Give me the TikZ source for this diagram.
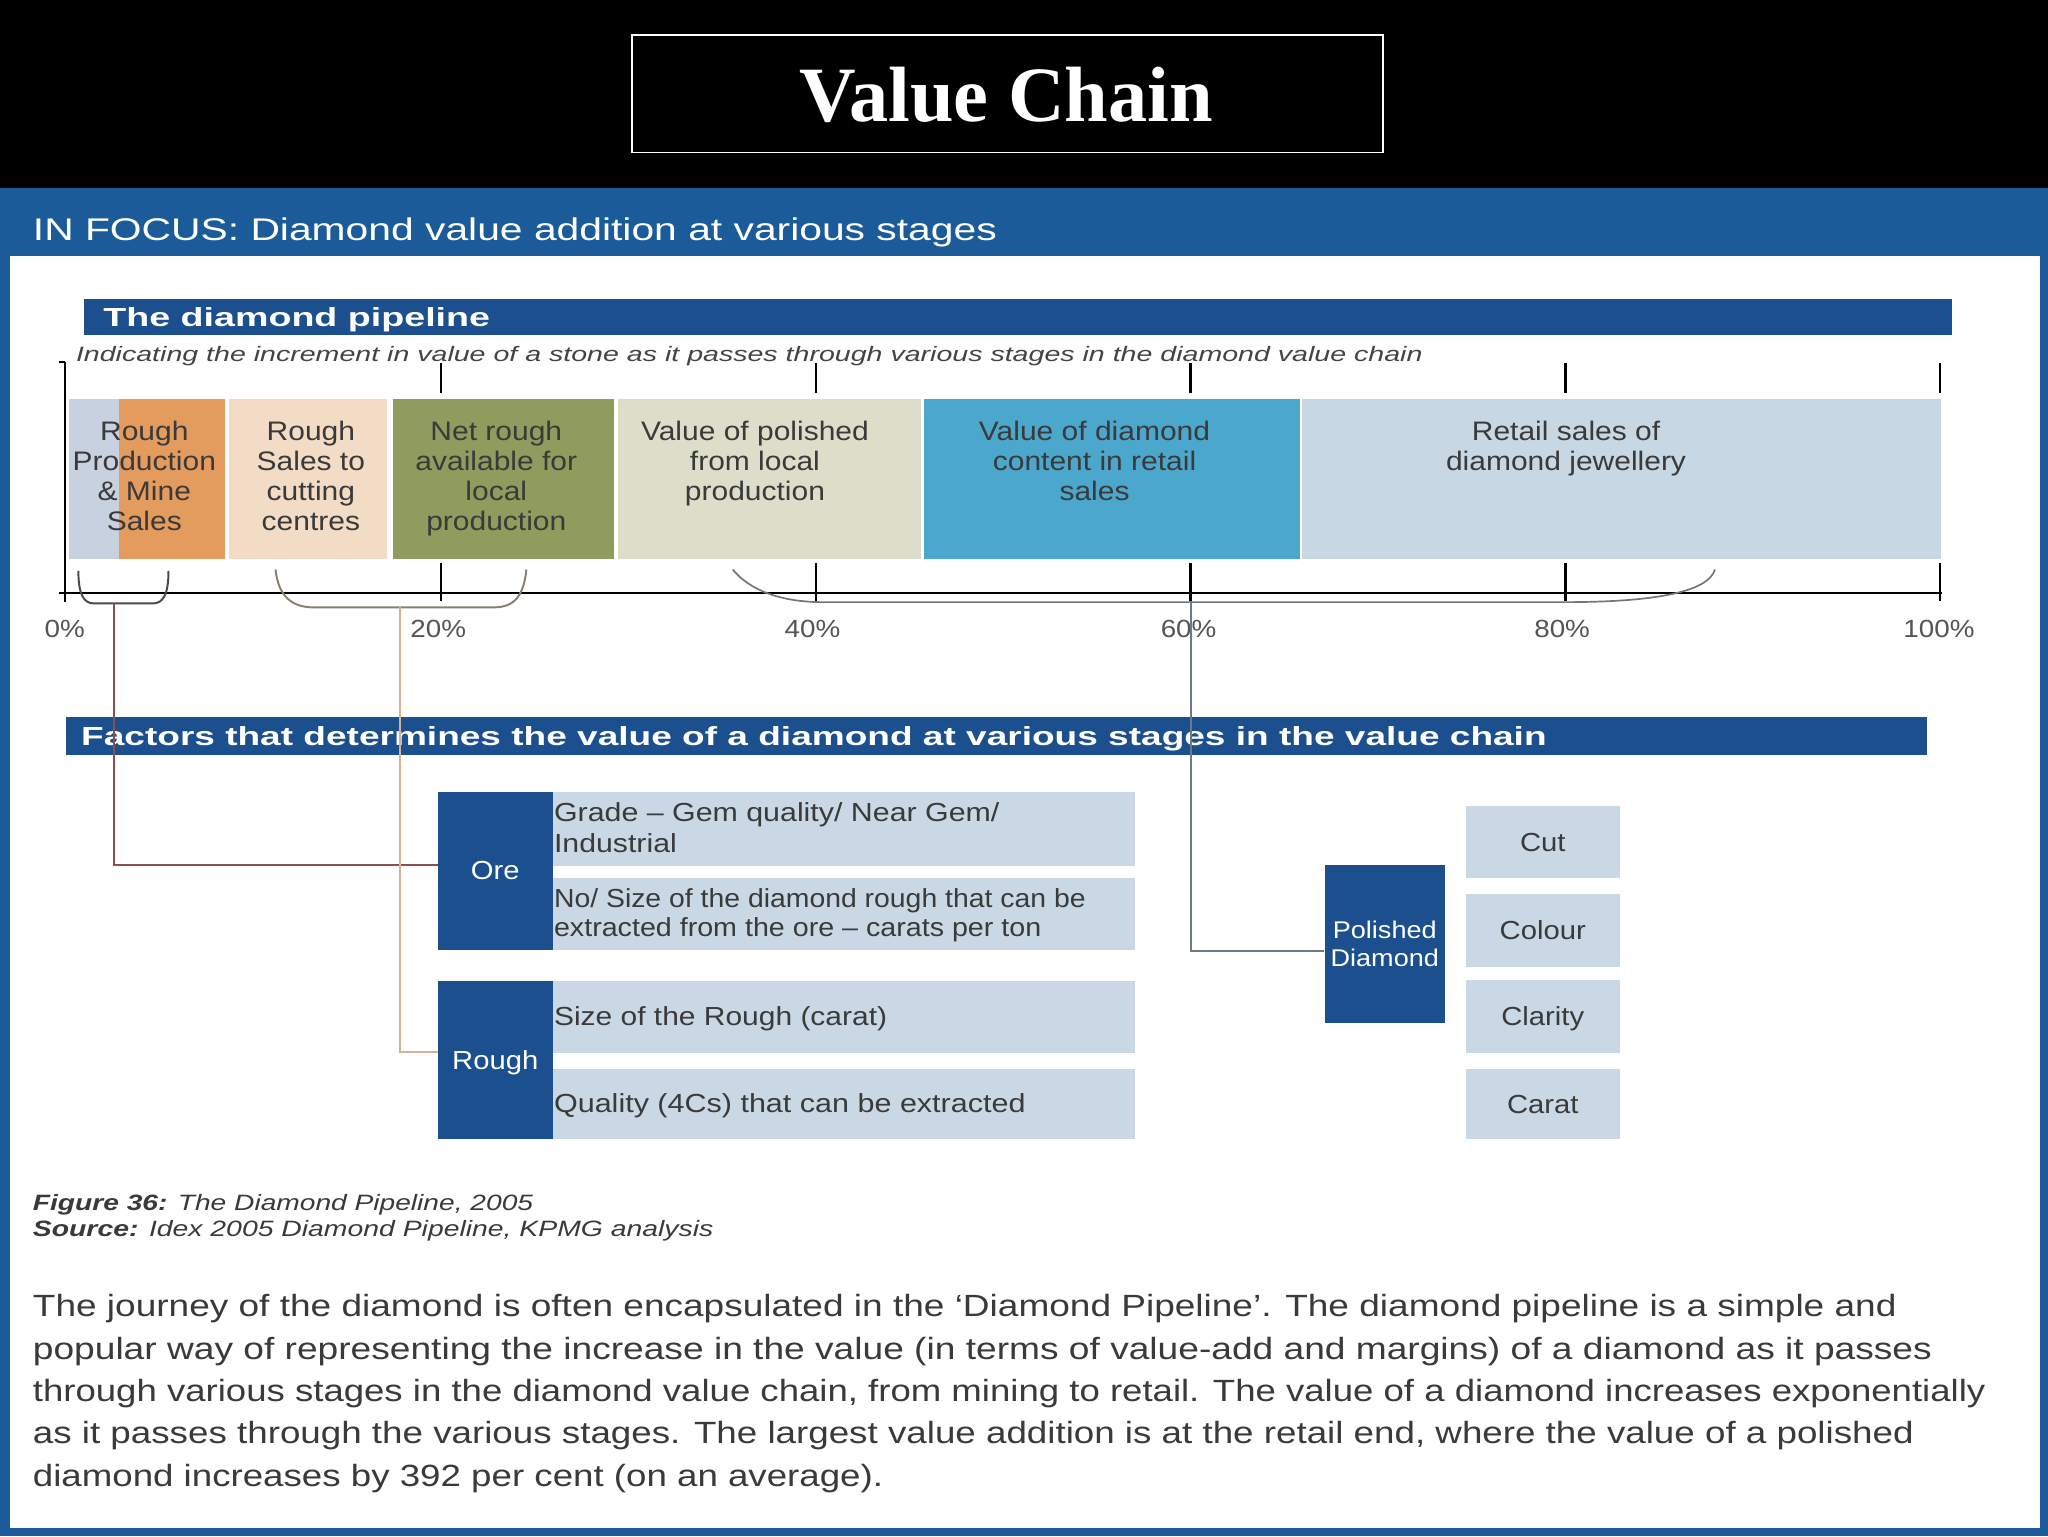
\documentclass[tikz,border=0pt]{standalone}
\usepackage{fontspec}
\usepackage{graphicx}
\setmainfont{Liberation Sans}[FakeStretch=1.12]
\newfontfamily\titlefont{Liberation Serif}
\definecolor{bandblue}{HTML}{1B5B99}
\definecolor{barblue}{HTML}{1B4F8E}
\definecolor{lightbox}{HTML}{C9D8E4}
\definecolor{segA}{HTML}{C7D1DF}
\definecolor{segB}{HTML}{E49B5E}
\definecolor{segC}{HTML}{F3DCC6}
\definecolor{segD}{HTML}{8E9C5E}
\definecolor{segE}{HTML}{DDDECA}
\definecolor{segF}{HTML}{4CA7CC}
\definecolor{segG}{HTML}{C7D8E4}
\definecolor{segtext}{HTML}{3A3A3A}
\definecolor{pcttext}{HTML}{555555}
\definecolor{subtext}{HTML}{444444}
\definecolor{oreline}{HTML}{8C4F4F}
\definecolor{roughline}{HTML}{D4B395}
\definecolor{polline}{HTML}{6B7B83}
\definecolor{braceA}{HTML}{4A4A4A}
\definecolor{braceB}{HTML}{8A8070}
\definecolor{braceC}{HTML}{70787E}
\newsavebox\fitbox
\newcommand\fitto[2]{\sbox\fitbox{#2}\edef\fitw{\the\wd\fitbox}\pgfmathsetmacro\fitfac{#1/\fitw}\scalebox{\fitfac}[1]{\usebox\fitbox}}
\tikzset{
  seg/.style={rectangle, inner sep=0pt, minimum height=123pt, anchor=north west},
  seglab/.style={anchor=base, inner sep=0pt, text=segtext, font=\fontsize{20.5}{23}\selectfont},
  bluebar/.style={rectangle, fill=barblue, inner sep=0pt, anchor=north west},
  bartext/.style={anchor=base west, inner sep=0pt, text=white, font=\bfseries\fontsize{20}{22}\selectfont},
  lbox/.style={rectangle, fill=lightbox, inner sep=0pt, anchor=north west},
  dbox/.style={rectangle, fill=barblue, inner sep=0pt, anchor=north west, text=white, align=center},
  ftext/.style={anchor=base west, inner sep=0pt, text=segtext, font=\fontsize{20}{22}\selectfont},
  ctext/.style={inner sep=0pt, text=segtext, font=\fontsize{20}{22}\selectfont, text height=14pt, text depth=0pt},
  pct/.style={anchor=base, inner sep=0pt, text=pcttext, font=\fontsize{19}{22}\selectfont},
  axisline/.style={line width=1.8pt, black},
  para/.style={anchor=base west, inner sep=0pt, text=segtext, font=\fontsize{23.5}{26}\selectfont},
  capt/.style={anchor=base west, inner sep=0pt, text=segtext, font=\itshape\fontsize{17}{19}\selectfont},
}
\begin{document}
\begin{tikzpicture}[x=1pt,y=-1pt]
\useasboundingbox (0,0) rectangle (1568,1176);
% backgrounds
\fill[black] (0,0) rectangle (1568,144);
\fill[bandblue] (0,144) rectangle (1568,1176);
\fill[white] (8,196) rectangle (1562,1170);
% title
\node[draw=white, line width=1.5pt, minimum width=575pt, minimum height=90pt, inner sep=0pt, anchor=north west] (titlebox) at (483,26) {};
\node[anchor=base, inner sep=0pt, text=white, font=\titlefont\bfseries\fontsize{60}{60}\selectfont] (title) at (770.5,93) {Value Chain};
\node[anchor=base west, inner sep=0pt, text=white, font=\fontsize{24}{26}\selectfont] (infocus) at (25,184) {\fitto{738}{IN FOCUS: Diamond value addition at various stages}};
% pipeline bar
\node[bluebar, minimum width=1430pt, minimum height=27pt] (pbar) at (64,229) {};
\node[bartext] (ptitle) at (79,250) {\fitto{296}{The diamond pipeline}};
\node[anchor=base west, inner sep=0pt, text=subtext, font=\itshape\fontsize{16}{18}\selectfont] (sub) at (58,277) {\fitto{1031}{Indicating the increment in value of a stone as it passes through various stages in the diamond value chain}};
% segments
\node[seg, fill=segA, minimum width=38pt] (s1a) at (53,305) {};
\node[seg, fill=segB, minimum width=81pt] (s1b) at (91,305) {};
\node[seg, fill=segC, minimum width=121pt] (s2) at (175,305) {};
\node[seg, fill=segD, minimum width=169pt] (s3) at (301,305) {};
\node[seg, fill=segE, minimum width=232pt] (s4) at (473,305) {};
\node[seg, fill=segF, minimum width=288pt] (s5) at (707,305) {};
\node[seg, fill=segG, minimum width=489pt] (s6) at (997,305) {};
\node[seglab] (t1) at (110.5,337) {\parbox[t]{130pt}{\centering Rough\\Production\\\& Mine\\Sales}};
\node[seglab] (t2) at (238,337) {\parbox[t]{130pt}{\centering Rough\\Sales to\\cutting\\centres}};
\node[seglab] (t3) at (380,337) {\parbox[t]{170pt}{\centering Net rough\\available for\\local\\production}};
\node[seglab] (t4) at (578,337) {\parbox[t]{230pt}{\centering Value of polished\\from local\\production}};
\node[seglab] (t5) at (838,337) {\parbox[t]{280pt}{\centering Value of diamond\\content in retail\\sales}};
\node[seglab] (t6) at (1199,337) {\parbox[t]{400pt}{\centering Retail sales of\\diamond jewellery}};
% axis
\draw[axisline] (45,277) -- (50,277);
\draw[axisline] (50,277) -- (50,461);
\draw[axisline] (45,454) -- (1487,454);
\foreach \x in {337.5,624.5,911.5,1198.5,1485.5} {
  \draw[axisline] (\x,278) -- (\x,301);
  \draw[axisline] (\x,431) -- (\x,460);
}
\node[pct] (p0) at (49.5,488) {0\%};
\node[pct] (p20) at (335.5,488) {20\%};
\node[pct] (p40) at (622,488) {40\%};
\node[pct] (p60) at (910,488) {60\%};
\node[pct] (p80) at (1196,488) {80\%};
\node[pct] (p100) at (1484.5,488) {100\%};
% braces
\draw[braceA, line width=1.5pt] (60,437) .. controls (60,455) and (64,462) .. (72,462) -- (117,462) .. controls (125,462) and (129,455) .. (129,437);
\draw[braceB, line width=1.5pt] (211,436) .. controls (213,457) and (224,465) .. (240,465) -- (378,465) .. controls (394,465) and (401,456) .. (403,436);
\draw[braceC, line width=1.3pt] (561,436) .. controls (574,452) and (598,461) .. (630,461) -- (1198,461) .. controls (1268,461) and (1308,453) .. (1313,436);
\coordinate (b1) at (87,462);
\coordinate (b2) at (306.5,465);
\coordinate (b3) at (911.5,460);
% factors bar
\node[bluebar, minimum width=1425pt, minimum height=29pt] (fbar) at (50,549) {};
\node[bartext] (ftitle) at (62,571) {\fitto{1122}{Factors that determines the value of a diamond at various stages in the value chain}};
% ore / rough boxes
\node[dbox, minimum width=88pt, minimum height=121pt, font=\fontsize{20}{22}\selectfont] (ore) at (335,606) {Ore};
\node[lbox, minimum width=446pt, minimum height=57pt] (g1) at (423,606) {};
\node[lbox, minimum width=446pt, minimum height=55pt] (g2) at (423,672) {};
\node[dbox, minimum width=88pt, minimum height=121pt, font=\fontsize{20}{22}\selectfont, text height=14pt, text depth=0pt] (rough) at (335,751) {Rough};
\node[lbox, minimum width=446pt, minimum height=55pt] (g3) at (423,751) {};
\node[lbox, minimum width=446pt, minimum height=54pt] (g4) at (423,818) {};
\node[ftext] (g1a) at (424,629) {\fitto{341}{Grade – Gem quality/ Near Gem/}};
\node[ftext] (g1b) at (424,653) {\fitto{94}{Industrial}};
\node[ftext] (g2a) at (424,695) {\fitto{407}{No/ Size of the diamond rough that can be}};
\node[ftext] (g2b) at (424,717) {\fitto{373}{extracted from the ore – carats per ton}};
\node[ftext] (g3a) at (424,785) {\fitto{255}{Size of the Rough (carat)}};
\node[ftext] (g4a) at (424,852) {\fitto{361}{Quality (4Cs) that can be extracted}};
% polished
\node[dbox, minimum width=92pt, minimum height=121pt, font=\fontsize{18.5}{21}\selectfont] (pol) at (1014,662) {Polished\\Diamond};
\node[lbox, ctext, minimum width=118pt, minimum height=55pt] (cut) at (1122,617) {Cut};
\node[lbox, ctext, minimum width=118pt, minimum height=56pt] (colour) at (1122,684) {Colour};
\node[lbox, ctext, minimum width=118pt, minimum height=56pt] (clarity) at (1122,750) {Clarity};
\node[lbox, ctext, minimum width=118pt, minimum height=54pt] (carat) at (1122,818) {Carat};
% connectors
\draw[oreline, line width=1.5pt] (b1) |- ([yshift=4.5pt]ore.west);
\draw[roughline, line width=1.5pt] (b2) |- ([yshift=6.5pt]rough.west);
\draw[polline, line width=1.5pt] (b3) |- ([yshift=-5.5pt]pol.west);
% caption
\node[capt] (cap1) at (25,927) {\fitto{383}{{\bfseries Figure 36:} The Diamond Pipeline, 2005}};
\node[capt] (cap2) at (25,947) {\fitto{521}{{\bfseries Source:} Idex 2005 Diamond Pipeline, KPMG analysis}};
% paragraph
\node[para] (l1) at (25,1008) {\fitto{1427}{The journey of the diamond is often encapsulated in the ‘Diamond Pipeline’. The diamond pipeline is a simple and}};
\node[para] (l2) at (25,1040.5) {\fitto{1454}{popular way of representing the increase in the value (in terms of value-add and margins) of a diamond as it passes}};
\node[para] (l3) at (25,1073) {\fitto{1495}{through various stages in the diamond value chain, from mining to retail. The value of a diamond increases exponentially}};
\node[para] (l4) at (25,1105.5) {\fitto{1440}{as it passes through the various stages. The largest value addition is at the retail end, where the value of a polished}};
\node[para] (l5) at (25,1138) {\fitto{651}{diamond increases by 392 per cent (on an average).}};
\end{tikzpicture}
\end{document}
